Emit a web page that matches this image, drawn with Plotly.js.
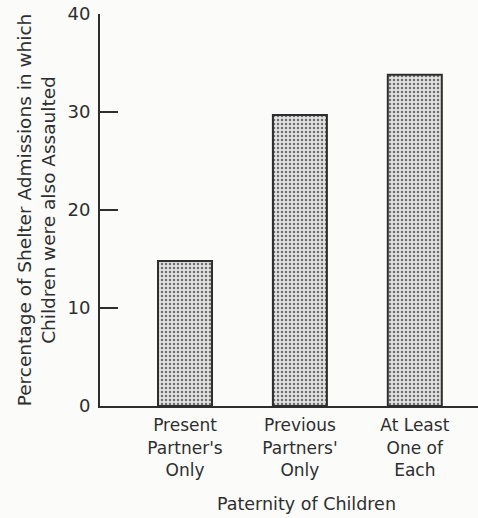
<!DOCTYPE html>
<html>
<head>
<meta charset="utf-8">
<script src="https://cdn.plot.ly/plotly-3.0.1.min.js"></script>
<style>html,body{margin:0;padding:0;background:#fbfbfa;}#chart{width:478px;height:518px;}</style>
</head>
<body>
<div id="chart"></div>
<script>
const categories = ["Present<br>Partner's<br>Only", "Previous<br>Partners'<br>Only", "At Least<br>One of<br>Each"];
const percentages = [14.8, 29.7, 33.8];
const yTickValues = [0, 10, 20, 30, 40];
const xTitle = "Paternity of Children";
const yTitle = "Percentage of Shelter Admissions in which<br>Children were also Assaulted";

const ink = '#2e2e2e';
const trace = {
  type: 'bar',
  x: categories,
  y: percentages,
  width: 0.47,
  marker: {
    color: '#d2d2d2',
    line: {color: ink, width: 2},
    pattern: {shape: '.', size: 4, solidity: 0.3, fgcolor: '#6e6e6e', bgcolor: '#e2e2e2'}
  },
  hoverinfo: 'skip'
};
const layout = {
  width: 478, height: 518,
  margin: {l: 100, r: 0, t: 14, b: 112},
  paper_bgcolor: '#fbfbfa',
  plot_bgcolor: '#fbfbfa',
  font: {family: 'DejaVu Sans, sans-serif', color: ink, size: 17},
  showlegend: false,
  xaxis: {
    type: 'category',
    range: [-0.74, 2.55],
    showline: true, linecolor: ink, linewidth: 2,
    ticks: '', showgrid: false, zeroline: false,
    tickfont: {size: 17, color: ink},
    ticklabelstandoff: 3
  },
  yaxis: {
    range: [0, 40],
    tickvals: yTickValues,
    showline: true, linecolor: ink, linewidth: 2,
    ticks: 'inside', ticklen: 18, tickwidth: 2, tickcolor: ink,
    showgrid: false, zeroline: false,
    tickfont: {size: 18, color: ink},
    ticklabelstandoff: 4,
    title: {text: yTitle, font: {size: 18.5, color: ink}, standoff: 7}
  },
  annotations: [{
    text: xTitle, xref: 'paper', yref: 'paper', x: 0.545, y: 0,
    xanchor: 'center', yanchor: 'middle', yshift: -98, showarrow: false,
    font: {size: 17.5, color: ink}
  }]
};
Plotly.newPlot('chart', [trace], layout, {displayModeBar: false, staticPlot: true});
</script>
</body>
</html>
